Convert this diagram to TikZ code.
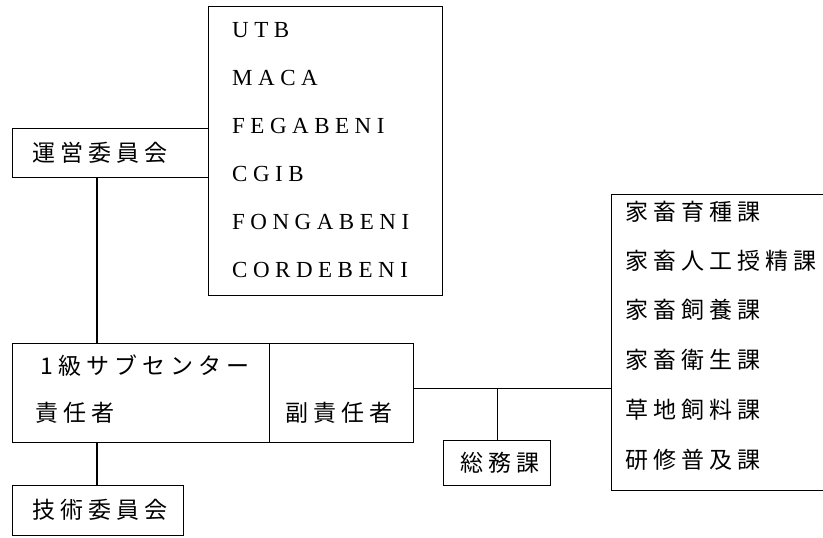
\documentclass[tikz,border=0pt]{standalone}
\usepackage{fontspec}
\setmainfont[LetterSpace=24]{Liberation Serif}
\newfontfamily\jp[LetterSpace=22]{Noto Sans CJK JP}
\begin{document}
\begin{tikzpicture}[x=1pt,y=-1pt,
  box/.style={draw=black,line width=1.2pt,rectangle,inner sep=0pt,anchor=north west},
  jtext/.style={font=\jp\fontsize{23}{26}\selectfont,inner sep=0pt,anchor=west},
  ltext/.style={font=\fontsize{23}{26}\selectfont,inner sep=0pt,anchor=west},
  conn/.style={line width=1.2pt,draw=black}]
\useasboundingbox (0,0) rectangle (823,538);
\clip (0,0) rectangle (823,538);
% organisations list
\node[box,minimum width=234pt,minimum height=289pt] (list) at (208,6) {};
\node[ltext] (l1) at (232,30) {UTB};
\node[ltext] (l2) at (232,78) {MACA};
\node[ltext] (l3) at (232,126) {FEGABENI};
\node[ltext] (l4) at (232,174) {CGIB};
\node[ltext] (l5) at (232,222) {FONGABENI};
\node[ltext] (l6) at (232,270) {CORDEBENI};
% steering committee
\node[box,minimum width=196pt,minimum height=49pt] (un) at (12,128) {};
\node[jtext] (unt) at (32,152.5) {運営委員会};
% main box
\node[box,minimum width=257pt,minimum height=99pt] (main) at (12,343) {};
\node[jtext] (m1) at (40,366) {1級サブセンター};
\node[jtext] (m2) at (35,413) {責任者};
\node[box,minimum width=144pt,minimum height=99pt] (vice) at (269,343) {};
\node[jtext] (vt) at (285,413) {副責任者};
% technical committee
\node[box,minimum width=171pt,minimum height=50pt] (tech) at (12,485) {};
\node[jtext] (tt) at (32,510) {技術委員会};
% general affairs
\node[box,minimum width=107pt,minimum height=45pt] (soumu) at (443,440) {};
\node[jtext] (st) at (460,462.5) {総務課};
% departments
\node[box,minimum width=260pt,minimum height=296pt] (depts) at (611,194) {};
\node[jtext] (d1) at (625,212) {家畜育種課};
\node[jtext] (d2) at (625,261) {家畜人工授精課};
\node[jtext] (d3) at (625,310) {家畜飼養課};
\node[jtext] (d4) at (625,360) {家畜衛生課};
\node[jtext] (d5) at (625,410) {草地飼料課};
\node[jtext] (d6) at (625,460) {研修普及課};
% connectors
\draw[conn] ([xshift=85pt]un.south west) -- ([xshift=85pt]main.north west);
\draw[conn] ([xshift=85pt]main.south west) -- ([xshift=85pt]tech.north west);
\coordinate (j) at ([yshift=4.5pt]vice.east);
\draw[conn] (j) -- (j -| depts.west);
\draw[conn] (soumu.north) -- (soumu.north |- j);
\end{tikzpicture}
\end{document}
